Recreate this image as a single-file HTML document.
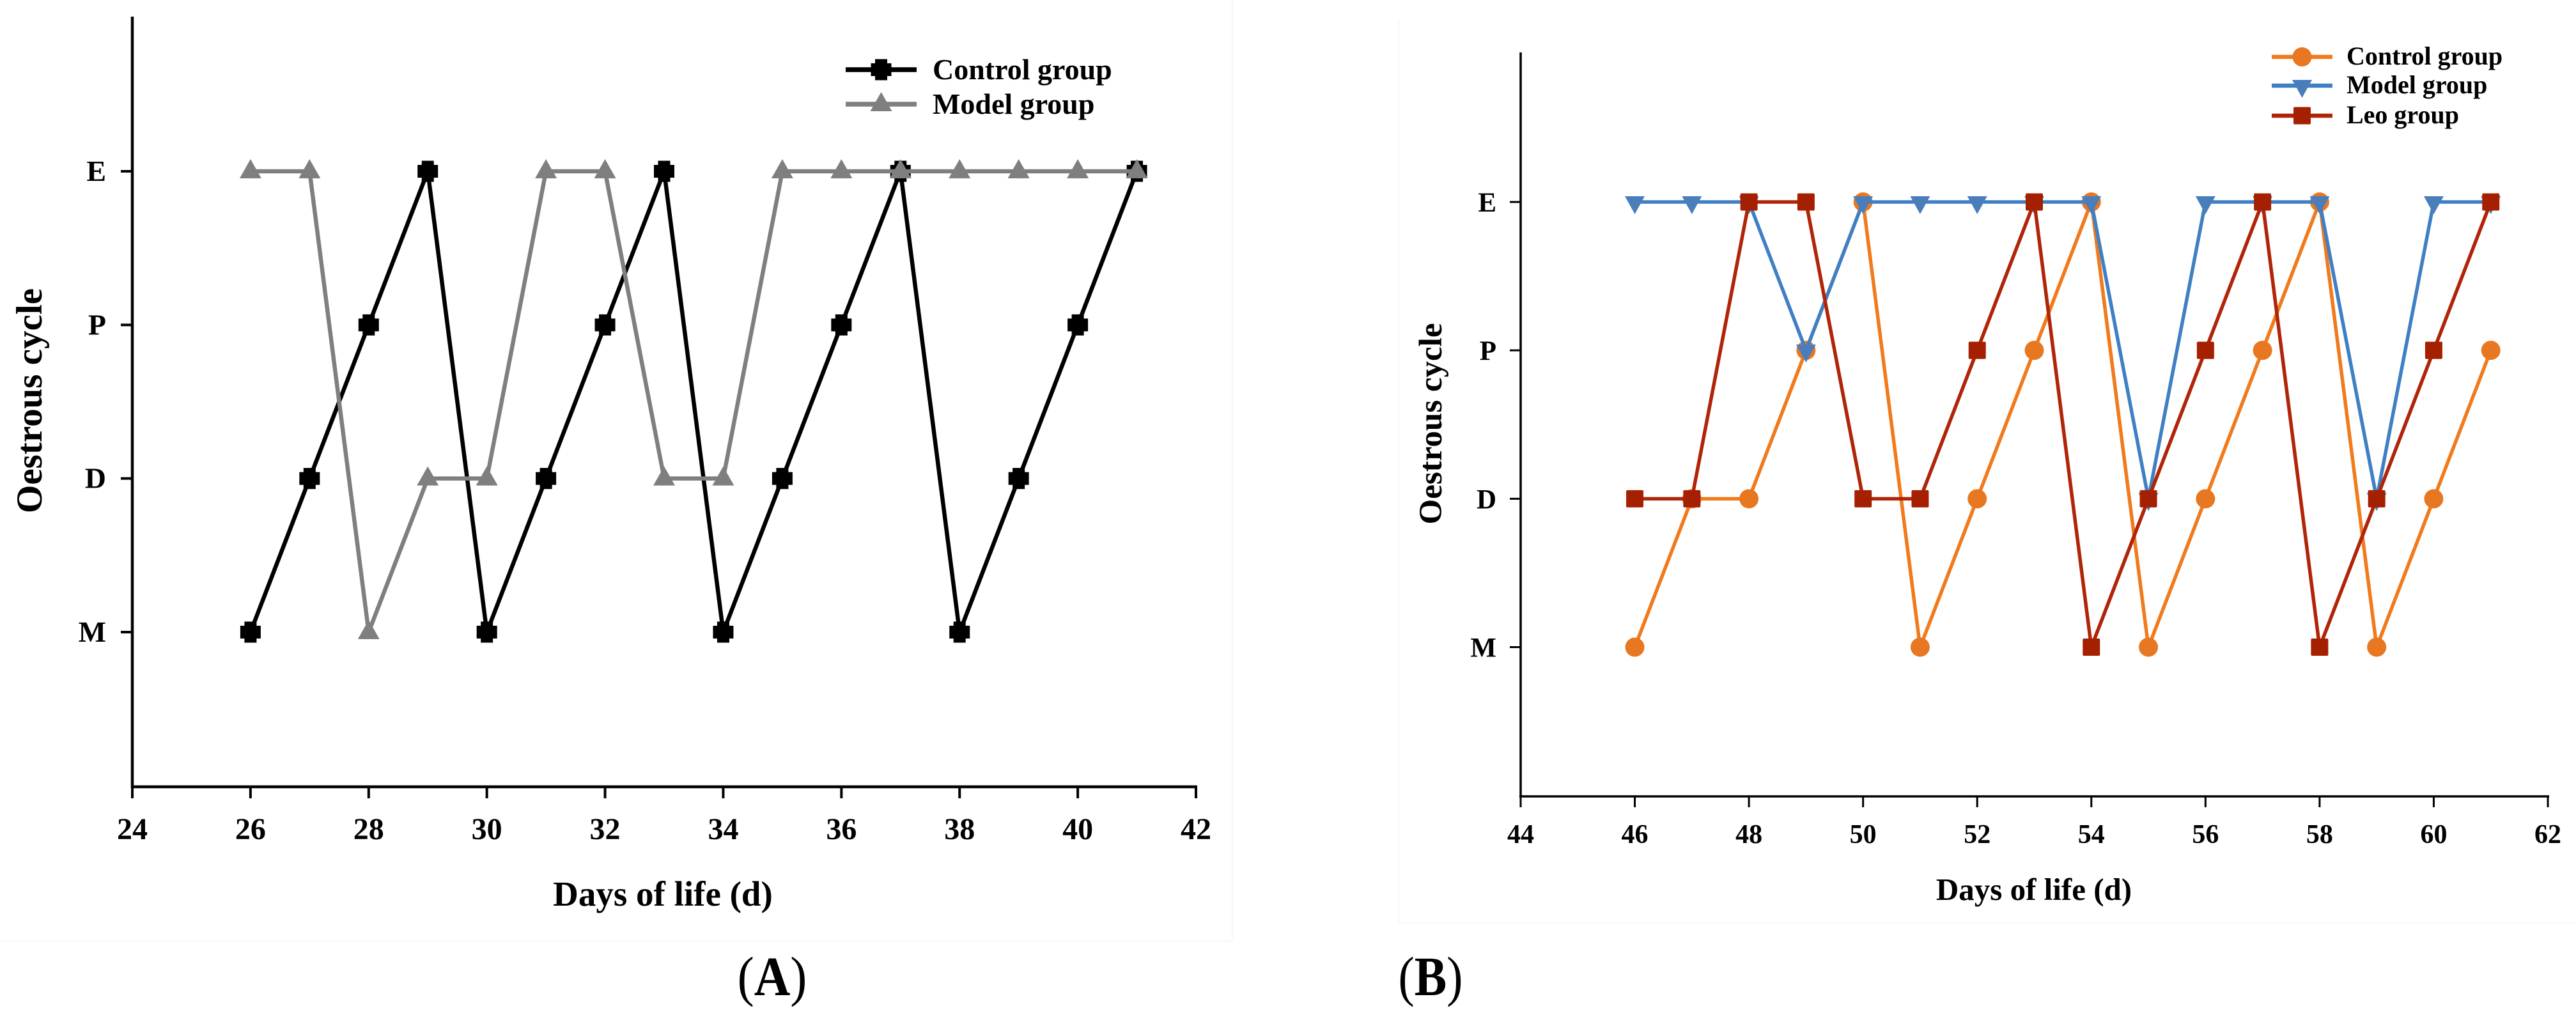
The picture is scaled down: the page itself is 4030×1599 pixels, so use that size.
<!DOCTYPE html>
<html lang="en">
<head>
<meta charset="utf-8">
<title>Oestrous cycle charts</title>
<style>
html,body{margin:0;padding:0;background:#fff;width:4030px;height:1599px;overflow:hidden}
svg{display:block}
text{font-family:"Liberation Serif",serif;font-weight:bold;fill:#000}
</style>
</head>
<body>
<svg id="figure" xmlns="http://www.w3.org/2000/svg" width="4030" height="1599" viewBox="0 0 4030 1599">
  <rect x="0" y="0" width="4030" height="1599" fill="#ffffff"/>
  <path d="M0 1472H1928V0" fill="none" stroke="#f9f9f9" stroke-width="3"/>
  <path d="M2188 30V1444H4030" fill="none" stroke="#fafafa" stroke-width="3"/>
  <g id="panel-a"></g>
  <g id="panel-b"></g>
  <text transform="translate(1208 1557) scale(0.9 1)" font-size="87" text-anchor="middle" style="font-weight:normal">(<tspan style="font-weight:bold">A</tspan>)</text>
  <text transform="translate(2238 1557) scale(0.87 1)" font-size="87" text-anchor="middle" style="font-weight:normal">(<tspan style="font-weight:bold">B</tspan>)</text>
</svg>
<script>
// ---- data ----
const stageLabels = ['M', 'D', 'P', 'E'];

const daysA = [26,27,28,29,30,31,32,33,34,35,36,37,38,39,40,41];
const controlA = ['M','D','P','E','M','D','P','E','M','D','P','E','M','D','P','E'];
const modelA = ['E','E','M','D','D','E','E','D','D','E','E','E','E','E','E','E'];
const xTicksA = [24,26,28,30,32,34,36,38,40,42];

const daysB = [46,47,48,49,50,51,52,53,54,55,56,57,58,59,60,61];
const controlB = ['M','D','D','P','E','M','D','P','E','M','D','P','E','M','D','P'];
const modelB = ['E','E','E','P','E','E','E','E','E','D','E','E','E','D','E','E'];
const leoB = ['D','D','E','E','D','D','P','E','M','D','P','E','M','D','P','E'];
const xTicksB = [44,46,48,50,52,54,56,58,60,62];

const legendNamesA = ['Control group', 'Model group'];
const legendNamesB = ['Control group', 'Model group', 'Leo group'];

// ---- helpers ----
const NS = 'http://www.w3.org/2000/svg';
function make(parent, tag, attrs, txt) {
  const el = document.createElementNS(NS, tag);
  for (const k in attrs) el.setAttribute(k, attrs[k]);
  if (txt !== undefined) el.textContent = txt;
  parent.appendChild(el);
  return el;
}

const plusShape = '-9.5,-16.5 9.5,-16.5 9.5,-10 16,-10 16,10 9.5,10 9.5,16.5 -9.5,16.5 -9.5,10 -16,10 -16,-10 -9.5,-10';
const triUpShape = '0,-19 17,11 -17,11';
const triDownShape = '-15.5,-9 15.5,-9 0,19';

function drawMarker(parent, kind, color, cx, cy) {
  if (kind === 'circle') return make(parent, 'circle', {cx: cx, cy: cy, r: 15, fill: color});
  if (kind === 'square') return make(parent, 'rect', {x: cx - 13.5, y: cy - 13.5, width: 27, height: 27, rx: 2, fill: color});
  const shape = kind === 'plus' ? plusShape : kind === 'triUp' ? triUpShape : triDownShape;
  return make(parent, 'polygon', {points: shape, transform: 'translate(' + cx + ' ' + cy + ')', fill: color});
}

function drawPanel(root, cfg, xTicks, days, seriesList, legendNames) {
  const xScale = d => cfg.x0 + (d - cfg.dMin) * (cfg.x1 - cfg.x0) / (cfg.dMax - cfg.dMin);
  const yScale = s => cfg.yM + stageLabels.indexOf(s) * (cfg.yE - cfg.yM) / 3;

  const yAxis = make(root, 'line', {x1: cfg.x0, x2: cfg.x0, y1: cfg.yTop, y2: cfg.yAxis + 2, stroke: '#000', 'stroke-width': cfg.axisW});
  
  
  const xAxis = make(root, 'line', {x1: cfg.x0 - 2, x2: cfg.x1 + 2, y1: cfg.yAxis, y2: cfg.yAxis, stroke: '#000', 'stroke-width': cfg.axisW});
  
  

  xTicks.forEach(t => {
    const tick = make(root, 'line', {x1: xScale(t), x2: xScale(t), y1: cfg.yAxis, y2: cfg.yAxis + cfg.tick, stroke: '#000', 'stroke-width': cfg.axisW - 0.5});
    
    
    const label = make(root, 'text', {x: xScale(t), y: cfg.xLabelY, 'font-size': cfg.tickFont, 'text-anchor': 'middle'}, String(t));
    
    
  });

  stageLabels.forEach(s => {
    const tick = make(root, 'line', {x1: cfg.x0 - cfg.tick, x2: cfg.x0, y1: yScale(s), y2: yScale(s), stroke: '#000', 'stroke-width': cfg.axisW - 0.5});
    
    
    const label = make(root, 'text', {x: cfg.yLabelX, y: yScale(s) + cfg.yLabelDy, 'font-size': cfg.yFont, 'text-anchor': 'end'}, s);
    
    
  });

  const xt = make(root, 'text', {x: cfg.xTitleX, y: cfg.xTitleY, 'font-size': cfg.titleFont, 'text-anchor': 'middle'}, 'Days of life (d)');
  
  
  const yt = make(root, 'text', {transform: 'translate(' + cfg.yTitleX + ' ' + cfg.yTitleY + ') rotate(-90)', 'font-size': cfg.yTitleFont, 'text-anchor': 'middle'}, 'Oestrous cycle');
  
  

  seriesList.forEach(sr => {
    const g = make(root, 'g', {});
    
    
    const pts = sr.values.map((v, i) => xScale(days[i]) + ',' + yScale(v)).join(' ');
    const line = make(g, 'polyline', {points: pts, fill: 'none', stroke: sr.line, 'stroke-width': cfg.lineW, 'stroke-linejoin': 'miter'});
    
    
    sr.values.forEach((v, i) => {
      const m = drawMarker(g, sr.marker, sr.fill, xScale(days[i]), yScale(v));
      
      
    });
  });

  legendNames.forEach((name, i) => {
    const sr = seriesList[i];
    const g = make(root, 'g', {});
    
    
    const ly = cfg.legendY[i];
    make(g, 'line', {x1: cfg.legendX0, x2: cfg.legendX1, y1: ly, y2: ly, stroke: sr.line, 'stroke-width': cfg.lineW + 1});
    drawMarker(g, sr.marker, sr.fill, (cfg.legendX0 + cfg.legendX1) / 2, ly);
    make(g, 'text', {x: cfg.legendTextX, y: ly + cfg.legendTextDy, 'font-size': cfg.legendFont}, name);
  });
}

drawPanel(document.getElementById('panel-a'), {
  x0: 207, x1: 1871, dMin: 24, dMax: 42, yTop: 26, yAxis: 1231, yE: 268, yM: 989,
  axisW: 4.5, tick: 18, lineW: 6.5, tickFont: 48, xLabelY: 1313, yFont: 46, yLabelX: 166, yLabelDy: 15,
  titleFont: 55, xTitleX: 1037, xTitleY: 1417, yTitleFont: 57, yTitleX: 65, yTitleY: 627,
  legendX0: 1323, legendX1: 1434, legendY: [109, 163], legendTextX: 1459, legendTextDy: 15, legendFont: 46
}, xTicksA, daysA, [
  {id: 'control-a', values: controlA, line: '#000000', fill: '#000000', marker: 'plus'},
  {id: 'model-a', values: modelA, line: '#7f7f7f', fill: '#7f7f7f', marker: 'triUp'}
], legendNamesA);

drawPanel(document.getElementById('panel-b'), {
  x0: 2379, x1: 3986, dMin: 44, dMax: 62, yTop: 82, yAxis: 1246, yE: 316, yM: 1012.5,
  axisW: 3.5, tick: 17, lineW: 5.5, tickFont: 42, xLabelY: 1319, yFont: 43, yLabelX: 2341, yLabelDy: 15,
  titleFont: 49, xTitleX: 3182, xTitleY: 1408, yTitleFont: 51, yTitleX: 2255, yTitleY: 663,
  legendX0: 3554, legendX1: 3649, legendY: [89, 134, 181], legendTextX: 3671, legendTextDy: 12, legendFont: 40
}, xTicksB, daysB, [
  {id: 'control-b', values: controlB, line: '#f07a1c', fill: '#e87722', marker: 'circle'},
  {id: 'model-b', values: modelB, line: '#3f7fc4', fill: '#4a7ebb', marker: 'triDown'},
  {id: 'leo-b', values: leoB, line: '#b02408', fill: '#a52000', marker: 'square'}
], legendNamesB);
</script>
</body>
</html>
